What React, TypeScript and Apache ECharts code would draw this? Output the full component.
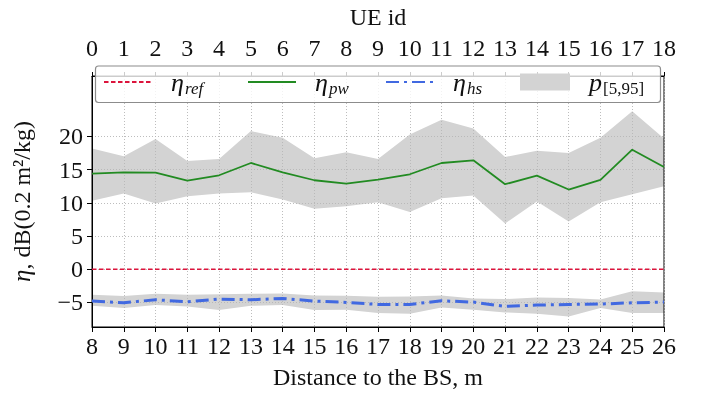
import React, { useEffect, useRef } from 'react';
import * as echarts from 'echarts';

// Distance of each UE to the base station (m) and the matching UE ids
const distance = ['8', '9', '10', '11', '12', '13', '14', '15', '16', '17', '18', '19', '20', '21', '22', '23', '24', '25', '26'];
const ueId = ['0', '1', '2', '3', '4', '5', '6', '7', '8', '9', '10', '11', '12', '13', '14', '15', '16', '17', '18'];

// eta values, dB(0.2 m^2/kg)
const etaRef = [0, 0, 0, 0, 0, 0, 0, 0, 0, 0, 0, 0, 0, 0, 0, 0, 0, 0, 0];
const etaPw = [14.4, 14.6, 14.55, 13.35, 14.15, 16.0, 14.6, 13.4, 12.9, 13.5, 14.3, 16.0, 16.4, 12.8, 14.1, 12.0, 13.45, 18.0, 15.4];
const etaHs = [-4.8, -5.05, -4.6, -4.9, -4.5, -4.6, -4.4, -4.8, -5.0, -5.3, -5.3, -4.75, -4.95, -5.6, -5.4, -5.3, -5.25, -5.05, -4.95];

// 5th / 95th percentiles
const pwP5 = [10.3, 11.4, 9.9, 11.0, 11.4, 11.6, 10.5, 9.1, 9.5, 10.1, 8.6, 10.7, 11.1, 6.9, 10.2, 7.2, 10.1, 11.3, 12.5];
const pwP95 = [18.2, 17.0, 19.6, 16.3, 16.6, 20.8, 19.8, 16.7, 17.6, 16.6, 20.3, 22.5, 21.2, 16.9, 17.85, 17.5, 19.8, 23.8, 19.7];
const hsP5 = [-5.5, -5.85, -5.4, -5.6, -6.15, -5.5, -5.4, -6.15, -6.1, -6.6, -6.7, -5.75, -6.1, -6.5, -6.7, -7.1, -5.85, -6.6, -6.6];
const hsP95 = [-3.85, -4.05, -3.7, -3.85, -3.75, -3.7, -3.65, -3.95, -4.0, -4.15, -4.1, -3.95, -4.4, -4.5, -4.25, -4.35, -4.55, -3.3, -3.5];

const yTicks = [-5, 0, 5, 10, 15, 20];

const FONT = '"Liberation Serif", "DejaVu Serif", serif';
const INK = '#111';
const GRID = '#b5b5b5';
const BAND = '#d3d3d3';

const legendRich = {
  e: { fontFamily: FONT, fontStyle: 'italic', fontSize: 26, color: INK },
  s: { fontFamily: FONT, fontStyle: 'italic', fontSize: 17, color: INK, padding: [12, 0, 0, 1] },
  u: { fontFamily: FONT, fontSize: 17, color: INK, padding: [12, 0, 0, 1] },
};

const legendLabels: Record<string, string> = {
  ref: '{e|η}{s|ref}',
  pw: '{e|η}{s|pw}',
  hs: '{e|η}{s|hs}',
  p: '{e|p}{u|[5,95]}',
};

function makeLegend(name: string, left: number, extra: Record<string, unknown> = {}) {
  return {
    data: [name],
    left,
    top: 69,
    padding: 0,
    selectedMode: false,
    itemWidth: 48,
    itemHeight: 17,
    itemStyle: { opacity: 0 },
    formatter: (n: string) => legendLabels[n],
    textStyle: { fontFamily: FONT, fontSize: 24, color: INK, padding: [0, 0, 0, 14], rich: legendRich },
    z: 10,
    ...extra,
  };
}

function diff(hi: number[], lo: number[]) {
  return hi.map((v, i) => +(v - lo[i]).toFixed(3));
}

export default function App() {
  const ref = useRef<HTMLDivElement>(null);

  useEffect(() => {
    const chart = echarts.init(ref.current!, null, { renderer: 'svg' });

    const bandBase = (stack: string, lo: number[]) => ({
      type: 'line',
      name: stack + '-base',
      data: lo,
      stack,
      stackStrategy: 'all',
      symbol: 'none',
      silent: true,
      lineStyle: { width: 0, opacity: 0 },
      z: 1,
    });
    const bandFill = (stack: string, lo: number[], hi: number[]) => ({
      type: 'line',
      name: 'p',
      data: diff(hi, lo),
      stack,
      stackStrategy: 'all',
      symbol: 'none',
      silent: true,
      color: BAND,
      lineStyle: { width: 0, opacity: 0 },
      areaStyle: { color: BAND, opacity: 1 },
      z: 1,
    });

    const option = {
      animation: false,
      textStyle: { fontFamily: FONT },
      grid: {
        left: 92,
        right: 45,
        top: 62,
        bottom: 70,
        show: true,
        borderColor: '#000',
        borderWidth: 1,
        backgroundColor: 'transparent',
        z: 3,
      },
      legend: [
        makeLegend('ref', 103),
        makeLegend('pw', 247),
        makeLegend('hs', 385),
        makeLegend('p', 520, {
          data: [{ name: 'p', icon: 'rect' }],
          itemWidth: 50,
          itemStyle: { color: BAND, opacity: 1 },
        }),
      ],
      graphic: {
        elements: [
          {
            type: 'rect',
            shape: { x: 95.5, y: 66, width: 565, height: 36.5, r: 3 },
            style: { fill: 'rgba(255,255,255,0.8)', stroke: '#8c8c8c', lineWidth: 1.2 },
            z: 8,
            silent: true,
          },
        ],
      },
      xAxis: [
        {
          type: 'category',
          data: distance,
          boundaryGap: false,
          position: 'bottom',
          name: 'Distance to the BS, m',
          nameLocation: 'middle',
          nameGap: 38,
          nameTextStyle: { fontFamily: FONT, fontSize: 24, color: INK },
          axisLine: { onZero: false, lineStyle: { color: '#000', width: 1 } },
          axisTick: { show: true, interval: 0, length: 5, lineStyle: { color: '#000' } },
          axisLabel: { interval: 0, fontFamily: FONT, fontSize: 24, color: INK, margin: 7 },
          splitLine: { show: true, interval: 0, lineStyle: { color: GRID, type: [1, 2], width: 0.9 } },
          z: 3,
        },
        {
          type: 'category',
          data: ueId,
          boundaryGap: false,
          position: 'top',
          name: 'UE id',
          nameLocation: 'middle',
          nameGap: 47,
          nameTextStyle: { fontFamily: FONT, fontSize: 24, color: INK },
          axisLine: { onZero: false, lineStyle: { color: '#000', width: 1 } },
          axisTick: { show: true, interval: 0, length: 4, lineStyle: { color: '#000' } },
          axisLabel: { interval: 0, fontFamily: FONT, fontSize: 24, color: INK, margin: 16 },
          splitLine: { show: false },
          z: 3,
        },
      ],
      yAxis: {
        type: 'value',
        min: -8.7,
        max: 29.1,
        splitNumber: 7,
        name: '{e|η}, dB(0.2 m²/kg)',
        nameLocation: 'middle',
        nameGap: 58,
        nameTextStyle: {
          fontFamily: FONT,
          fontSize: 24,
          color: INK,
          rich: { e: { fontFamily: FONT, fontStyle: 'italic', fontSize: 25, color: INK } },
        },
        axisLine: { show: true, onZero: false, lineStyle: { color: '#000', width: 1 } },
        axisTick: { show: true, length: 5, customValues: yTicks, lineStyle: { color: '#000' } },
        axisLabel: {
          customValues: yTicks,
          fontFamily: FONT,
          fontSize: 24,
          color: INK,
          margin: 9,
          formatter: (v: number) => (v < 0 ? '\u2212' + Math.abs(v) : String(v)),
        },
        splitLine: { show: true, lineStyle: { color: GRID, type: [1, 2], width: 0.9 } },
        z: 3,
      },
      series: [
        bandBase('pwBand', pwP5),
        bandFill('pwBand', pwP5, pwP95),
        bandBase('hsBand', hsP5),
        bandFill('hsBand', hsP5, hsP95),
        {
          type: 'line',
          name: 'ref',
          data: etaRef,
          symbol: 'none',
          color: '#dc143c',
          lineStyle: { color: '#dc143c', width: 1.4, type: [4.5, 2.5] },
          z: 5,
        },
        {
          type: 'line',
          name: 'pw',
          data: etaPw,
          symbol: 'none',
          color: '#228b22',
          lineStyle: { color: '#228b22', width: 1.8 },
          z: 5,
        },
        {
          type: 'line',
          name: 'hs',
          data: etaHs,
          symbol: 'none',
          color: '#4169e1',
          lineStyle: { color: '#4169e1', width: 3, type: [13, 5, 3, 5] },
          z: 5,
        },
      ],
    };

    chart.setOption(option as any);
    return () => chart.dispose();
  }, []);

  return <div ref={ref} style={{ position: 'fixed', left: 0, top: 0, width: 709, height: 397 }} />;
}
